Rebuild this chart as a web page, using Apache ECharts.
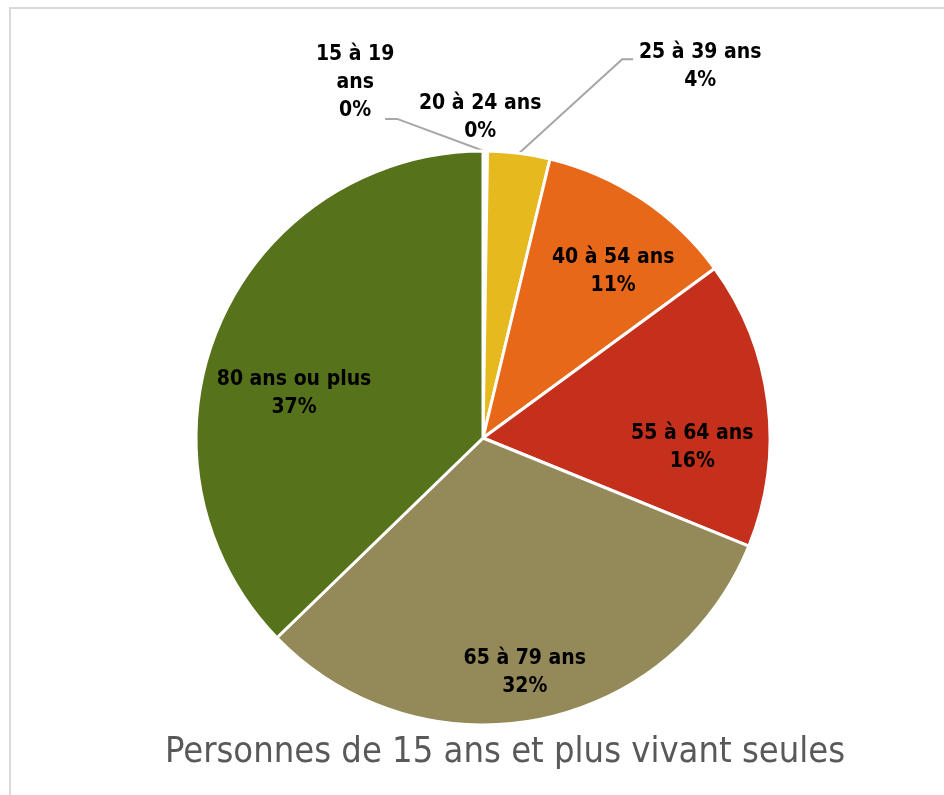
<!DOCTYPE html>
<html>
<head>
<meta charset="utf-8">
<script src="https://cdn.jsdelivr.net/npm/echarts@6/dist/echarts.min.js"></script>
<style>
  html, body { margin: 0; padding: 0; background: #fff; }
  #chart { width: 944px; height: 795px; }
</style>
</head>
<body>
<div id="chart"></div>
<script>
// data
const categories = ['15 à 19 ans', '20 à 24 ans', '25 à 39 ans', '40 à 54 ans', '55 à 64 ans', '65 à 79 ans', '80 ans ou plus'];
const shares = [0.1, 0.15, 3.5, 11.2, 16.2, 31.6, 37.25];
const sliceColors = ['#7f6000', '#a5a5a5', '#e6b91e', '#e8681a', '#c4301b', '#948a59', '#56731c'];
const titleText = 'Personnes de 15 ans et plus vivant seules';

// label placement: [angle from 12 o'clock, fraction of radius]
const labelSpots = [[340.2, 1.315], [359.5, 1.115], [30.3, 1.5], [38.1, 0.735], [92.7, 0.73], [169.9, 0.83], [283.1, 0.676]];
// leader line ends relative to label centre: [dx, dy, elbow dx]
const leaderEnds = { 0: [30, 36, 42], 2: [-67, -7, -78] };

const cx = 483, cy = 438, R = 287;
const total = shares.reduce((a, b) => a + b, 0);

function polar(deg, r) {
  const a = deg * Math.PI / 180;
  return [cx + r * Math.sin(a), cy - r * Math.cos(a)];
}

function midAngle(i) {
  let before = 0;
  for (let k = 0; k < i; k++) before += shares[k];
  return (before + shares[i] / 2) / total * 360;
}

const inside = [3, 4, 5, 6];

const chart = echarts.init(document.getElementById('chart'));

const option = {
  animation: false,
  backgroundColor: '#fff',
  title: {
    text: titleText,
    left: 160,
    top: 730,
    textStyle: {
      fontFamily: 'DejaVu Sans Condensed',
      fontWeight: 'normal',
      fontSize: 36,
      color: '#595959'
    }
  },
  graphic: [
    {
      type: 'rect',
      shape: { x: 10, y: 8, width: 960, height: 800 },
      style: { fill: 'none', stroke: '#d9d9d9', lineWidth: 2 },
      silent: true
    }
  ],
  series: [
    {
      type: 'pie',
      center: [cx, cy],
      radius: R,
      startAngle: 90,
      clockwise: true,
      avoidLabelOverlap: false,
      itemStyle: { borderColor: '#fff', borderWidth: 3 },
      label: {
        show: true,
        position: 'outside',
        fontFamily: 'DejaVu Sans Condensed',
        fontWeight: 'bold',
        fontSize: 21,
        lineHeight: 28,
        color: '#000',
        align: 'center',
        formatter: function (p) {
          let name = p.name;
          if (p.dataIndex === 0) name = '15 à 19\nans';
          return name + '\n' + Math.round(p.percent) + '%';
        }
      },
      labelLine: {
        show: true,
        lineStyle: { color: '#a6a6a6', width: 2 }
      },
      labelLayout: function (p) {
        const i = p.dataIndex;
        const spot = labelSpots[i];
        const pos = polar(spot[0], spot[1] * R);
        const out = { x: pos[0], y: pos[1], align: 'center', verticalAlign: 'middle' };
        const le = leaderEnds[i];
        if (le) {
          const start = polar(midAngle(i), R);
          out.labelLinePoints = [
            start,
            [pos[0] + le[2], pos[1] + le[1]],
            [pos[0] + le[0], pos[1] + le[1]]
          ];
        }
        return out;
      },
      data: categories.map((name, i) => ({
        name: name,
        value: shares[i],
        itemStyle: { color: sliceColors[i] },
        label: inside.indexOf(i) >= 0 ? { position: 'inside' } : {},
        labelLine: { show: i === 0 || i === 2 }
      }))
    }
  ]
};

chart.setOption(option);
</script>
</body>
</html>
